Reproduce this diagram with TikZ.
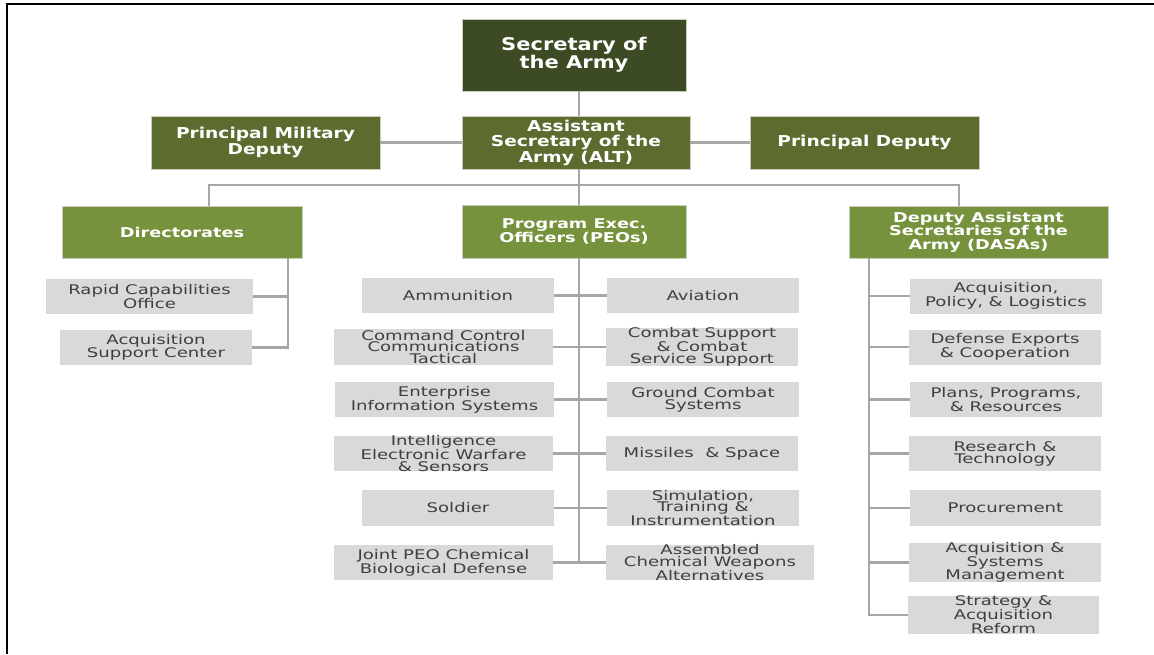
\documentclass[tikz,border=0pt]{standalone}
\usepackage{fontspec}
\setmainfont{DejaVu Sans}
\newfontfamily\fA[FakeStretch=1.2]{DejaVu Sans}
\newfontfamily\fB[FakeStretch=1.24]{DejaVu Sans}
\newfontfamily\fC[FakeStretch=1.31]{DejaVu Sans}
\newfontfamily\fD[FakeStretch=1.36]{DejaVu Sans}
\definecolor{gDark}{HTML}{3C4B23}
\definecolor{gMid}{HTML}{5C6C2F}
\definecolor{gLight}{HTML}{76923C}
\definecolor{boxGray}{HTML}{D9D9D9}
\definecolor{txtGray}{HTML}{3F3F3F}
\definecolor{lineGray}{HTML}{A6A6A6}
\definecolor{edgeLight}{HTML}{C8CCB8}
\tikzset{
  top/.style={fill=gDark, draw=edgeLight, line width=0.8pt, text=white, align=center, inner sep=0pt,
    font=\fA\bfseries\fontsize{17.5}{18}\selectfont},
  second/.style={fill=gMid, draw=edgeLight, line width=0.8pt, text=white, align=center, inner sep=0pt,
    font=\fB\bfseries\fontsize{15}{15.5}\selectfont},
  third/.style={fill=gLight, draw=edgeLight, line width=0.8pt, text=white, align=center, inner sep=0pt,
    font=\fC\bfseries\fontsize{13.5}{13.6}\selectfont},
  leaf/.style={fill=boxGray, draw=none, text=txtGray, align=center, inner sep=0pt,
    minimum height=35pt, font=\fD\fontsize{13.3}{11.7}\selectfont},
  conn/.style={draw=lineGray, line width=2.2pt},
}
\begin{document}
\begin{tikzpicture}[x=1pt,y=-1pt]
\useasboundingbox (0,0) rectangle (1154,654);
\fill[white] (0,0) rectangle (1154,654);
% frame
\draw[black, line width=2pt] (7,654) -- (7,4) -- (1154,4);

\coordinate (spine) at (579,0);
\coordinate (busL) at (209,185);
\coordinate (busR) at (959,185);
\coordinate (dl) at (288,0);
\coordinate (dr) at (869,0);

% nodes
\node[top, minimum width=224pt, minimum height=72pt] (sec) at (574,55) {Secretary of\\the Army};
\node[second, minimum width=228pt, minimum height=53pt] (asa) at (576,142.5) {Assistant\\Secretary of the\\Army (ALT)};
\node[second, minimum width=229pt, minimum height=53pt] (pmd) at (265.5,142.5) {Principal Military\\Deputy};
\node[second, minimum width=229pt, minimum height=53pt] (pd) at (864.5,142.5) {Principal Deputy};
\node[third, minimum width=240pt, minimum height=52pt] (dir) at (182,232) {Directorates};
\node[third, minimum width=224pt, minimum height=53pt] (peo) at (574,231.5) {Program Exec.\\Officers (PEOs)};
\node[third, minimum width=259pt, minimum height=52pt] (dasa) at (978.5,232) {Deputy Assistant\\Secretaries of the\\Army (DASAs)};

% directorates children
\node[leaf, minimum width=207pt] (rco) at (149.5,296.5) {Rapid Capabilities\\Office};
\node[leaf, minimum width=192pt] (asc) at (156,347.5) {Acquisition\\Support Center};

% PEO children
\node[leaf, minimum width=192pt] (amm) at (458,295.5) {Ammunition};
\node[leaf, minimum width=219pt, minimum height=36pt] (c3t) at (443.5,347) {Command Control\\Communications\\Tactical};
\node[leaf, minimum width=219pt] (eis) at (444.5,399.5) {Enterprise\\Information Systems};
\node[leaf, minimum width=219pt] (iew) at (443.5,453.5) {Intelligence\\Electronic Warfare\\\& Sensors};
\node[leaf, minimum width=192pt, minimum height=36pt] (sol) at (458,508) {Soldier};
\node[leaf, minimum width=219pt] (jpeo) at (443.5,562.5) {Joint PEO Chemical\\Biological Defense};

\node[leaf, minimum width=192pt] (avn) at (703,295.5) {Aviation};
\node[leaf, minimum width=192pt, minimum height=36pt] (cs) at (702,347) {Combat Support\\\& Combat\\Service Support};
\node[leaf, minimum width=192pt] (gcs) at (703,399.5) {Ground Combat\\Systems};
\node[leaf, minimum width=192pt] (mis) at (702,453.5) {Missiles~~\& Space};
\node[leaf, minimum width=192pt, minimum height=36pt] (sim) at (703,508) {Simulation,\\Training \&\\Instrumentation};
\node[leaf, minimum width=208pt] (acwa) at (710,562.5) {Assembled\\Chemical Weapons\\Alternatives};

% DASA children
\node[leaf, minimum width=192pt] (apl) at (1006,296) {Acquisition,\\Policy, \& Logistics};
\node[leaf, minimum width=192pt] (dec) at (1005,347) {Defense Exports\\\& Cooperation};
\node[leaf, minimum width=192pt] (ppr) at (1006,399.5) {Plans, Programs,\\\& Resources};
\node[leaf, minimum width=192pt] (rt) at (1005,453.5) {Research \&\\Technology};
\node[leaf, minimum width=191pt, minimum height=36pt] (proc) at (1005.5,508) {Procurement};
\node[leaf, minimum width=192pt] (asm) at (1005,562.5) {Acquisition \&\\Systems\\Management};
\node[leaf, minimum width=191pt, minimum height=36pt] (sar) at (1003.5,615) {Strategy \&\\Acquisition\\Reform};

% connectors
\path[conn] (sec.south -| spine) -- (asa.north -| spine);
\path[conn] (pmd.east) -- (asa.west);
\path[conn] (asa.east) -- (pd.west);
\path[conn] (asa.south -| spine) -- (peo.north -| spine);
\path[conn] (dir.north -| busL) -- (busL) -- (busR) -- (dasa.north -| busR);

\path[conn] (dir.south -| dl) |- (asc.east);
\path[conn] (rco.east) -- (rco.east -| dl);

\path[conn] (peo.south -| spine) -- (jpeo.east -| spine);
\path[conn] (amm.east) -- (avn.west);
\path[conn] (c3t.east) -- (cs.west);
\path[conn] (eis.east) -- (gcs.west);
\path[conn] (iew.east) -- (mis.west);
\path[conn] (sol.east) -- (sim.west);
\path[conn] (jpeo.east) -- (acwa.west);

\path[conn] (dasa.south -| dr) |- (sar.west);
\path[conn] (apl.west) -- (apl.west -| dr);
\path[conn] (dec.west) -- (dec.west -| dr);
\path[conn] (ppr.west) -- (ppr.west -| dr);
\path[conn] (rt.west) -- (rt.west -| dr);
\path[conn] (proc.west) -- (proc.west -| dr);
\path[conn] (asm.west) -- (asm.west -| dr);
\end{tikzpicture}
\end{document}
